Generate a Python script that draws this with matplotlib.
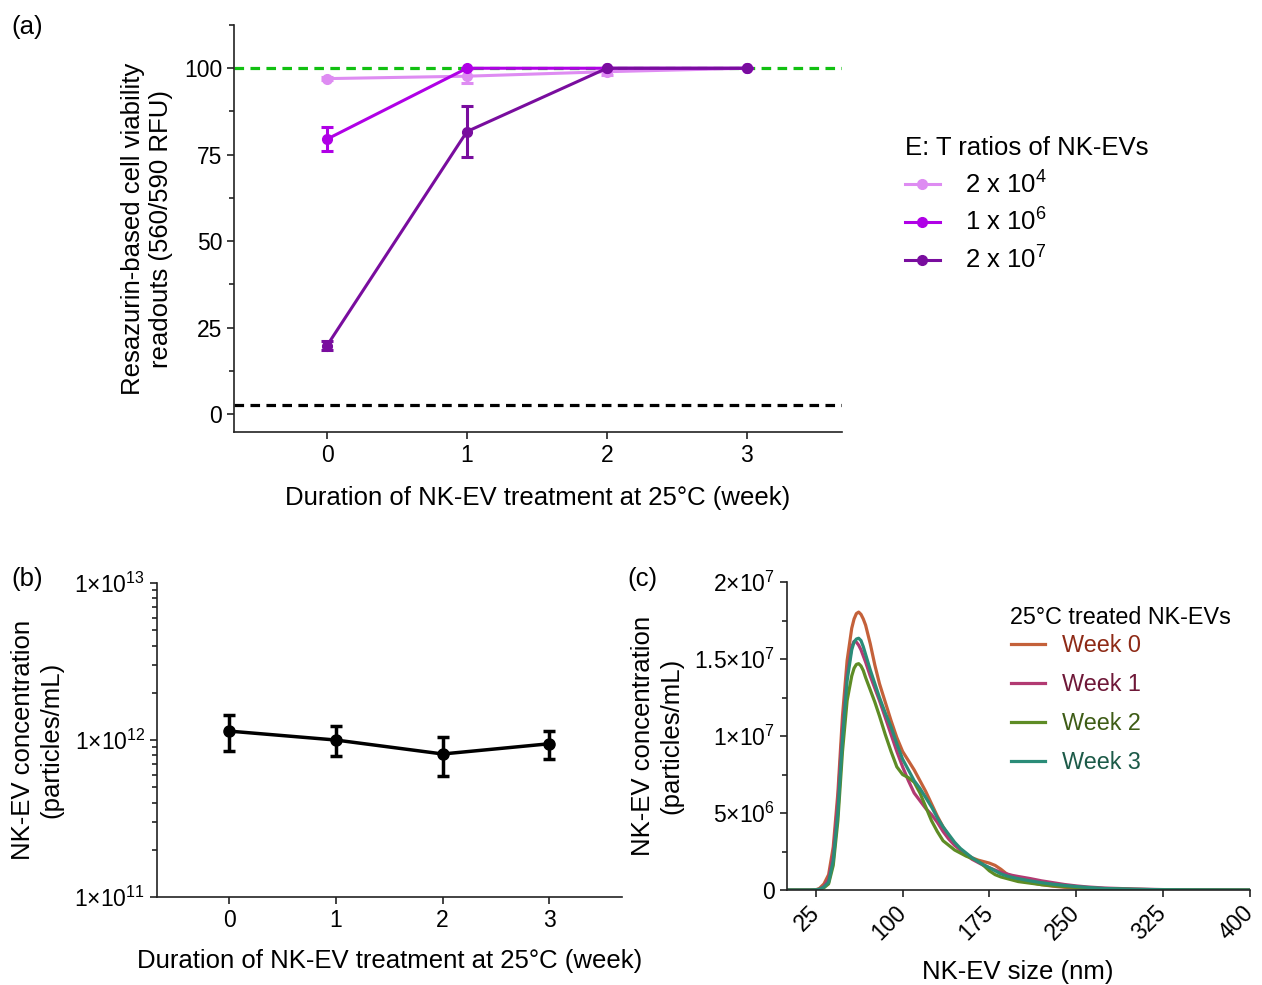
import numpy as np
import matplotlib
matplotlib.use('Agg')
import matplotlib.pyplot as plt
from matplotlib.lines import Line2D
from matplotlib.ticker import FixedLocator, MultipleLocator, NullFormatter, LogLocator

plt.rcParams['font.family'] = ['Liberation Sans', 'DejaVu Sans']
plt.rcParams['mathtext.fontset'] = 'custom'
plt.rcParams['mathtext.rm'] = 'Liberation Sans'
plt.rcParams['mathtext.it'] = 'Liberation Sans:italic'
plt.rcParams['mathtext.default'] = 'regular'

# (a) resazurin viability vs. storage week
weeks = [0, 1, 2, 3]
ratio_labels = [r'2 x 10$^{4}$', r'1 x 10$^{6}$', r'2 x 10$^{7}$']
viab_2e4 = [97.0, 97.7, 99.0, 100.0]
viab_2e4_err = [0.5, 2.0, 1.0, 0.0]
viab_1e6 = [79.5, 100.0, 100.0, 100.0]
viab_1e6_err = [3.5, 0.0, 0.0, 0.0]
viab_2e7 = [19.8, 81.7, 100.0, 100.0]
viab_2e7_err = [1.2, 7.4, 0.0, 0.0]
ratio_colors = ['#DE8CF2', '#B000E6', '#790D9E']
untreated_level = 100.0
lysis_level = 2.6

# (b) particle concentration vs. storage week
conc = [1.14e12, 1.0e12, 0.815e12, 0.947e12]
conc_lo = [0.85e12, 0.79e12, 0.588e12, 0.753e12]
conc_hi = [1.44e12, 1.22e12, 1.05e12, 1.15e12]
conc_ticks = [1e11, 1e12, 1e13]
conc_ticklabels = [r'$1{\times}10^{11}$', r'$1{\times}10^{12}$', r'$1{\times}10^{13}$']

# (c) size distributions (nm, particles/mL in 1e6)
size_nm = [0, 20, 25, 28, 32, 36, 40, 44, 48, 52, 56, 58, 60, 62, 64, 66, 68,
           72, 76, 80, 85, 90, 95, 100, 105, 110, 115, 120, 125, 130, 135,
           140, 145, 150, 155, 160, 165, 170, 175, 180, 185, 190, 195, 200,
           210, 220, 230, 240, 250, 260, 275, 300, 325, 350, 400]
week0 = [0, 0, 0.02, 0.1, 0.4, 1.0, 2.8, 6.3, 11.3, 14.9, 17.0, 17.6, 17.95,
         18.05, 17.9, 17.6, 17.2, 16.0, 14.6, 13.4, 12.2, 11.0, 9.9, 9.0, 8.4,
         7.8, 7.1, 6.4, 5.6, 4.8, 4.1, 3.5, 3.0, 2.6, 2.3, 2.1, 1.95, 1.85,
         1.75, 1.6, 1.35, 1.05, 0.85, 0.7, 0.5, 0.35, 0.25, 0.18, 0.14, 0.1,
         0.07, 0.04, 0.02, 0.01, 0]
week1 = [0, 0, 0.01, 0.06, 0.25, 0.7, 2.3, 5.8, 10.5, 14.0, 15.8, 16.15, 16.1,
         15.9, 15.6, 15.2, 14.8, 13.9, 13.1, 12.3, 11.2, 10.1, 9.0, 8.0, 7.1,
         6.3, 5.8, 5.3, 4.9, 4.4, 3.8, 3.3, 2.9, 2.6, 2.3, 2.0, 1.8, 1.6, 1.45,
         1.3, 1.15, 1.05, 0.95, 0.88, 0.75, 0.6, 0.48, 0.36, 0.27, 0.2, 0.13,
         0.07, 0.03, 0.01, 0]
week2 = [0, 0, 0.01, 0.04, 0.15, 0.4, 1.6, 4.5, 9.0, 12.3, 13.9, 14.4, 14.65,
         14.7, 14.55, 14.25, 13.8, 13.0, 12.2, 11.3, 10.1, 9.0, 8.0, 7.5, 7.3,
         7.0, 6.3, 5.4, 4.5, 3.8, 3.2, 2.9, 2.6, 2.4, 2.2, 2.05, 1.9, 1.6,
         1.25, 1.0, 0.85, 0.75, 0.65, 0.55, 0.45, 0.35, 0.28, 0.22, 0.17, 0.12,
         0.08, 0.04, 0.02, 0.01, 0]
week3 = [0, 0, 0.01, 0.05, 0.2, 0.5, 1.9, 5.0, 9.8, 13.6, 15.6, 16.1, 16.3,
         16.35, 16.2, 15.8, 15.3, 14.3, 13.4, 12.5, 11.5, 10.6, 9.5, 8.5, 7.8,
         7.1, 6.6, 6.0, 5.4, 4.7, 4.1, 3.6, 3.1, 2.7, 2.4, 2.1, 1.85, 1.65,
         1.45, 1.25, 1.05, 0.92, 0.82, 0.74, 0.6, 0.48, 0.38, 0.3, 0.23, 0.17,
         0.1, 0.05, 0.02, 0.01, 0]
week_labels = ['Week 0', 'Week 1', 'Week 2', 'Week 3']
week_colors = ['#C4613A', '#B23A72', '#5E8C25', '#2A8C78']
week_text_colors = ['#8E2A16', '#6E1838', '#3E5C16', '#1C5A48']
size_ticks = [25, 100, 175, 250, 325, 400]
size_yticks = [0, 5e6, 1e7, 1.5e7, 2e7]
size_yticklabels = ['0', r'$5{\times}10^{6}$', r'$1{\times}10^{7}$',
                    r'$1.5{\times}10^{7}$', r'$2{\times}10^{7}$']

FS = 18.5
TFS = 16.5
LFS_C = 16.8

fig = plt.figure(figsize=(12.62, 9.85), dpi=100)
ax_a = fig.add_axes([0.1854, 0.5614, 0.4818, 0.4132])
ax_b = fig.add_axes([0.1244, 0.0893, 0.3685, 0.3188])
ax_c = fig.add_axes([0.6236, 0.0964, 0.3665, 0.3127])


def style_axis(ax):
    for s in ['top', 'right']:
        ax.spines[s].set_visible(False)
    for s in ['left', 'bottom']:
        ax.spines[s].set_linewidth(1.2)
        ax.spines[s].set_color('#222222')
    ax.tick_params(which='major', length=5, width=1.2, labelsize=TFS, color='#222222')
    ax.tick_params(which='minor', length=3.5, width=1.2, color='#222222')


# ---- panel a ----
style_axis(ax_a)
ax_a.axhline(untreated_level, color='#11C011', ls=(0, (3, 2)), lw=2.3, zorder=1)
ax_a.axhline(lysis_level, color='black', ls=(0, (3, 2)), lw=2.3, zorder=1)
series = [(viab_2e4, viab_2e4_err), (viab_1e6, viab_1e6_err), (viab_2e7, viab_2e7_err)]
for (vals, err), col in zip(series, ratio_colors):
    ax_a.errorbar(weeks, vals, yerr=err, color=col, lw=2.2, marker='o', ms=7,
                  capsize=4, capthick=2.2, elinewidth=2.2, zorder=3)
ax_a.set_xlim(-0.665, 3.68)
ax_a.set_ylim(-5.2, 112.5)
ax_a.set_xticks(weeks)
ax_a.yaxis.set_major_locator(FixedLocator([0, 25, 50, 75, 100]))
ax_a.yaxis.set_minor_locator(FixedLocator([12.5, 37.5, 62.5, 87.5, 112.5]))
ax_a.set_ylabel('Resazurin-based cell viability\nreadouts (560/590 RFU)', fontsize=FS,
                labelpad=8)
ax_a.set_xlabel('Duration of NK-EV treatment at 25°C (week)', fontsize=FS, labelpad=14)
handles_a = [Line2D([], [], color=c, lw=2.2, marker='o', ms=7) for c in ratio_colors]
ax_a.legend(handles_a, ratio_labels, title='E: T ratios of NK-EVs', frameon=False,
            fontsize=FS, title_fontsize=FS, alignment='left', handlelength=1.36,
            handletextpad=1.0, labelspacing=0.41,
            loc='upper left', bbox_to_anchor=(0.6985, 0.885),
            bbox_transform=fig.transFigure)

# ---- panel b ----
style_axis(ax_b)
conc_arr = np.array(conc)
yerr_b = [conc_arr - np.array(conc_lo), np.array(conc_hi) - conc_arr]
ax_b.errorbar(weeks, conc, yerr=yerr_b, color='black', lw=2.5, marker='o', ms=8,
              capsize=4.5, capthick=2.5, elinewidth=2.5)
ax_b.set_yscale('log')
ax_b.set_ylim(1e11, 1e13)
ax_b.set_xlim(-0.675, 3.68)
ax_b.set_xticks(weeks)
ax_b.yaxis.set_major_locator(FixedLocator(conc_ticks))
ax_b.set_yticklabels(conc_ticklabels)
ax_b.yaxis.set_minor_locator(LogLocator(base=10, subs=np.arange(2, 10)))
ax_b.yaxis.set_minor_formatter(NullFormatter())
ax_b.set_ylabel('NK-EV concentration\n(particles/mL)', fontsize=FS, labelpad=8)
ax_b.set_xlabel('Duration of NK-EV treatment at 25°C (week)', fontsize=FS, labelpad=12)

# ---- panel c ----
style_axis(ax_c)
for ys, col, lab in zip([week0, week1, week2, week3], week_colors, week_labels):
    ax_c.plot(size_nm, np.array(ys) * 1e6, color=col, lw=2.3, label=lab)
ax_c.set_xlim(0, 400)
ax_c.set_ylim(0, 2e7)
ax_c.set_xticks(size_ticks)
ax_c.set_xticklabels([str(t) for t in size_ticks], rotation=45, ha='right',
                     va='center', rotation_mode='anchor')
ax_c.tick_params(axis='x', pad=9)
ax_c.yaxis.set_major_locator(FixedLocator(size_yticks))
ax_c.set_yticklabels(size_yticklabels)
ax_c.yaxis.set_minor_locator(MultipleLocator(2.5e6))
ax_c.set_ylabel('NK-EV concentration\n(particles/mL)', fontsize=FS, labelpad=8)
ax_c.set_xlabel('NK-EV size (nm)', fontsize=FS, labelpad=11)
leg_c = ax_c.legend(frameon=False, fontsize=LFS_C, handlelength=1.42,
                    handletextpad=0.73, labelspacing=0.685, borderpad=0,
                    borderaxespad=0, loc='upper left',
                    bbox_to_anchor=(0.8015, 1 - 634 / 985),
                    bbox_transform=fig.transFigure)
for txt, col in zip(leg_c.get_texts(), week_text_colors):
    txt.set_color(col)
fig.text(0.8, 1 - 617 / 985, '25°C treated NK-EVs', fontsize=LFS_C, va='center')

fig.text(0.009, 0.965, '(a)', fontsize=FS)
fig.text(0.009, 0.405, '(b)', fontsize=FS)
fig.text(0.497, 0.405, '(c)', fontsize=FS)

fig.savefig('out.png', dpi=100, facecolor='white')
